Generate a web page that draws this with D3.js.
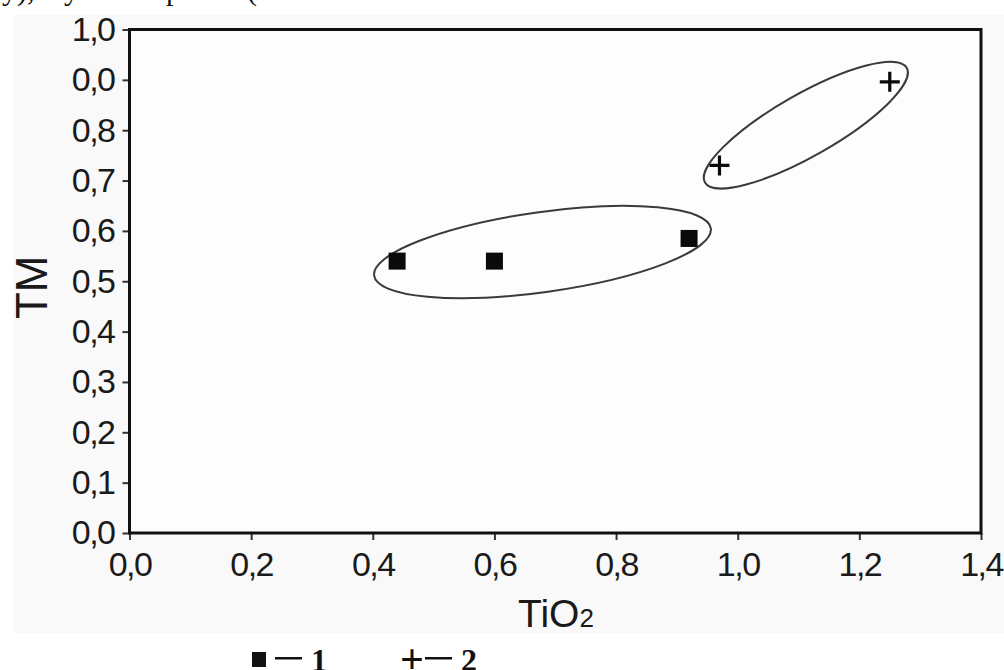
<!DOCTYPE html>
<html>
<head>
<meta charset="UTF-8">
<title>TM vs TiO2</title>
<script src="https://d3js.org/d3.v7.min.js"></script>
<style>
  body { margin: 0; background: #ffffff; }
  .tick text { font-family: "Liberation Sans", Arial, sans-serif; font-size: 34px; letter-spacing: -1.5px; fill: #1a1a1a; }
  .tick line { stroke: #333; stroke-width: 2; }
</style>
</head>
<body>
<div id="chart"></div>
<script>
// x axis ticks (TiO2)
var xTicks = [0, 0.2, 0.4, 0.6, 0.8, 1.0, 1.2, 1.4];
var xTickLabels = ["0,0", "0,2", "0,4", "0,6", "0,8", "1,0", "1,2", "1,4"];
// y axis ticks (TM) - labels as printed in the figure
var yTicks = [1.0, 0.9, 0.8, 0.7, 0.6, 0.5, 0.4, 0.3, 0.2, 0.1, 0.0];
var yTickLabels = ["1,0", "0,0", "0,8", "0,7", "0,6", "0,5", "0,4", "0,3", "0,2", "0,1", "0,0"];

// group 1 (squares)
var group1TiO2 = [0.44, 0.60, 0.92];
var group1TM = [0.54, 0.54, 0.585];
// group 2 (crosses)
var group2TiO2 = [0.97, 1.25];
var group2TM = [0.73, 0.896];

// outline ellipse centres, in data units
var ellipseTiO2 = [0.679, 1.112];
var ellipseTM = [0.558, 0.810];

var width = 1004, height = 670;

var svg = d3.select("#chart").append("svg")
    .attr("width", width)
    .attr("height", height);

// faint grey scan background of the figure
svg.append("rect")
    .attr("x", 13).attr("y", 15)
    .attr("width", width - 13).attr("height", 618)
    .attr("fill", "#f9f9f9");

// bits of the line of text above the figure that got cut off
var topBits = [["у),", 2], ["у", 64], ["р", 166], ["(", 247]];
svg.selectAll(".topbit").data(topBits).enter().append("text")
    .attr("class", "topbit")
    .attr("x", function(d) { return d[1]; })
    .attr("y", 0)
    .attr("font-family", "Liberation Serif, serif")
    .attr("font-size", 30)
    .attr("fill", "#111")
    .text(function(d) { return d[0]; });

var x = d3.scaleLinear().domain([0, 1.4]).range([129.5, 981]);
var y = d3.scaleLinear().domain([0, 1]).range([533, 29.5]);

// plot area
svg.append("rect")
    .attr("x", x(0)).attr("y", y(1))
    .attr("width", x(1.4) - x(0)).attr("height", y(0) - y(1))
    .attr("fill", "#fdfdfd");

var xAxis = d3.axisBottom(x)
    .tickValues(xTicks)
    .tickSize(7)
    .tickPadding(12)
    .tickFormat(function(d, i) { return xTickLabels[i]; });

var yAxis = d3.axisLeft(y)
    .tickValues(yTicks)
    .tickSize(7)
    .tickPadding(8)
    .tickFormat(function(d, i) { return yTickLabels[i]; });

svg.append("g")
    .attr("transform", "translate(0," + y(0) + ")")
    .call(xAxis)
    .call(function(g) { g.select(".domain").remove(); });

svg.append("g")
    .attr("transform", "translate(" + x(0) + ",0)")
    .call(yAxis)
    .call(function(g) { g.select(".domain").remove(); });

// frame
svg.append("rect")
    .attr("x", x(0)).attr("y", y(1))
    .attr("width", x(1.4) - x(0)).attr("height", y(0) - y(1))
    .attr("fill", "none")
    .attr("stroke", "#111")
    .attr("stroke-width", 3);

// axis titles
svg.append("text")
    .attr("transform", "translate(47," + ((y(0) + y(1)) / 2 + 6) + ") rotate(-90)")
    .attr("text-anchor", "middle")
    .attr("font-family", "Liberation Sans, Arial, sans-serif")
    .attr("font-size", 44)
    .attr("fill", "#1a1a1a")
    .text("TM");

var xt = svg.append("text")
    .attr("x", 518).attr("y", 627)
    .attr("font-family", "Liberation Sans, Arial, sans-serif")
    .attr("font-size", 39)
    .attr("fill", "#1a1a1a");
xt.append("tspan").text("TiO");
xt.append("tspan").attr("font-size", 26).text("2");

// outline ellipses (semi axes and tilt in pixels)
var ellipseShape = [[170, 40, -8], [116, 31, -29.6]];
svg.selectAll(".outline").data(ellipseTiO2).enter().append("ellipse")
    .attr("class", "outline")
    .attr("transform", function(d, i) {
        return "translate(" + x(d) + "," + y(ellipseTM[i]) + ") rotate(" + ellipseShape[i][2] + ")";
    })
    .attr("rx", function(d, i) { return ellipseShape[i][0]; })
    .attr("ry", function(d, i) { return ellipseShape[i][1]; })
    .attr("fill", "none")
    .attr("stroke", "#3a3a3a")
    .attr("stroke-width", 2);

// squares
var sq = 17;
svg.selectAll(".sq").data(group1TiO2).enter().append("rect")
    .attr("class", "sq")
    .attr("x", function(d) { return x(d) - sq / 2; })
    .attr("y", function(d, i) { return y(group1TM[i]) - sq / 2; })
    .attr("width", sq).attr("height", sq)
    .attr("fill", "#0a0a0a");

// crosses
svg.selectAll(".cross").data(group2TiO2).enter().append("path")
    .attr("class", "cross")
    .attr("d", function(d, i) {
        var cx = x(d), cy = y(group2TM[i]), r = 10;
        return "M" + (cx - r) + "," + cy + "H" + (cx + r) + "M" + cx + "," + (cy - r) + "V" + (cy + r);
    })
    .attr("stroke", "#0a0a0a")
    .attr("stroke-width", 3.2)
    .attr("fill", "none");

// legend below the figure
var legend = svg.append("g")
    .attr("font-family", "Liberation Serif, Times New Roman, serif")
    .attr("font-weight", "bold")
    .attr("font-size", 32)
    .attr("fill", "#111");
legend.append("rect").attr("x", 252).attr("y", 652).attr("width", 14).attr("height", 15).attr("fill", "#111");
legend.append("rect").attr("x", 275).attr("y", 657).attr("width", 27).attr("height", 2.5).attr("fill", "#111");
legend.append("text").attr("x", 311).attr("y", 671).text("1");
legend.append("text").attr("x", 400).attr("y", 673).attr("font-size", 42).text("+");
legend.append("rect").attr("x", 425).attr("y", 657).attr("width", 27).attr("height", 2.5).attr("fill", "#111");
legend.append("text").attr("x", 461).attr("y", 671).text("2");
</script>
</body>
</html>
